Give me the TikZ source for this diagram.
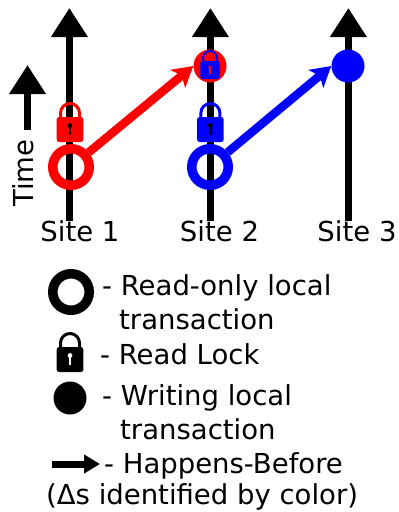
\documentclass[tikz,border=0pt]{standalone}
\usepackage{fontspec}
\setmainfont{DejaVu Sans}
\usetikzlibrary{arrows.meta}
\tikzset{
  label/.style={inner sep=0pt, anchor=base west, font=\fontsize{27.5}{27.5}\selectfont},
  sitename/.style={inner sep=0pt, anchor=base, font=\fontsize{27.5}{27.5}\selectfont},
  ring/.style={draw=#1, circle, line width=9.5pt, minimum size=36.5pt, inner sep=0pt},
  disk/.style={fill=#1, circle, minimum size=33pt, inner sep=0pt},
  timeline/.style={draw, line width=7pt, -{Triangle[length=29pt,width=35pt]}},
  hb/.style={draw=#1, line width=8.5pt, -{Stealth[length=20pt,width=23pt,inset=5pt]}},
  shackle/.style={line width=3pt},
  pics/padlock/.style 2 args={code={
    \draw[#1, shackle] (-9.5,-12.5) -- (-9.5,-16.5) arc (180:360:9.5) -- (9.5,-12.5);
    \fill[#1, rounded corners=2.5pt] (-13.3,-12.5) rectangle (13.3,12.5);
    \fill[#2] (0,-4) circle (2.4);
    \fill[#2] (-1.2,-4) rectangle (1.2,5);
  }}
}
\begin{document}
\begin{tikzpicture}[x=1pt,y=-1pt]
\useasboundingbox (0,0) rectangle (399,512);

% time lines
\coordinate (b1) at (69.4,221);
\coordinate (t1) at (69.4,8);
\coordinate (b2) at (210.4,221);
\coordinate (t2) at (210.4,8);
\coordinate (b3) at (348.4,221);
\coordinate (t3) at (348.4,8);
\coordinate (tb) at (27.5,130);
\coordinate (tt) at (27.5,65);
\path[timeline] (b1) -- (t1);
\path[timeline] (b2) -- (t2);
\path[timeline] (b3) -- (t3);
\path[timeline] (tb) -- (tt);

\node[rotate=90, inner sep=0pt, font=\fontsize{27.5}{27.5}\selectfont] (time) at (23.5,173) {Time};
\node[sitename] (site1) at (80,241) {Site 1};
\node[sitename] (site2) at (219.5,241) {Site 2};
\node[sitename] (site3) at (357,241) {Site 3};

\node[ring=red] (r1) at (71,167) {};
\node[ring=blue] (r2) at (210,167) {};
\node[disk=red] (d2) at (210,66) {};
\node[disk=blue] (d3) at (348,66) {};

\pic (l1) at (70,129.5) {padlock={red}{black}};
\pic (l2) at (210.4,129.5) {padlock={blue}{black}};
\pic[scale=0.73, shackle/.style={line width=2pt}] (l3) at (210,70) {padlock={blue}{red}};

\path[hb=red] (r1) -- (d2.west);
\path[hb=blue] (r2) -- (d3.west);

% legend
\node[ring=black] (r0) at (71,292) {};
\pic (l0) at (70,359.5) {padlock={black}{white}};
\node[disk=black] (d0) at (70,398) {};
\coordinate (a) at (52,464);
\coordinate (b) at (100,464);
\draw[line width=7pt, -{Triangle[length=16pt,width=18pt]}] (a) -- (b);

\node[label] (t0) at (102,295) {- Read-only local};
\node[label] (t1b) at (119,329) {transaction};
\node[label] (t2b) at (100,364) {- Read Lock};
\node[label] (t3b) at (102,405) {- Writing local};
\node[label] (t4b) at (120,439) {transaction};
\node[label] (t5b) at (104,473) {- Happens-Before};
\node[label] (t6b) at (46,504) {(Δs identified by color)};
\end{tikzpicture}
\end{document}
